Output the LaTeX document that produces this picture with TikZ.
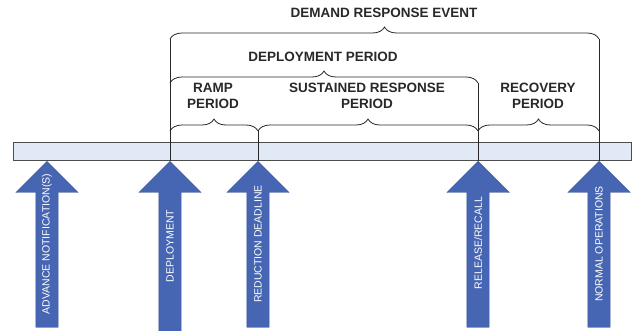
\documentclass[tikz,border=0pt]{standalone}
\usepackage{fontspec}
\setmainfont{Liberation Sans}
\usetikzlibrary{shapes.arrows,decorations.pathreplacing}
\definecolor{barfill}{RGB}{224,233,245}
\definecolor{arrowblue}{RGB}{70,101,178}
\definecolor{ink}{RGB}{40,40,40}

\begin{document}
\begin{tikzpicture}[x=1pt,y=-1pt,
  period/.style={font=\fontsize{13.5}{15.5}\selectfont\bfseries,text=ink,align=center,inner sep=0pt},
  bracket/.style={draw=ink,line width=0.8pt,decorate,decoration={brace,amplitude=12pt}},
  marker/.style={single arrow,draw=arrowblue!85!black,fill=arrowblue,rotate=90,anchor=tip,
    single arrow head extend=20pt,minimum height=166pt,text height=7.5pt,text depth=0pt,
    inner ysep=7.25pt,inner xsep=0pt},
  tag/.style={rotate=90,text=white,font=\fontsize{10.5}{12}\selectfont,inner sep=0pt}]
  \useasboundingbox (0,0) rectangle (634,330);

  % time line
  \node[draw=gray!60!black,fill=barfill,minimum width=618pt,minimum height=18pt,inner sep=0pt] (timeline) at (322,151) {};

  % milestones
  \node[marker] (notice) at (47,161) {};
  \node[marker,minimum height=170pt] (deploy) at (170,161) {};
  \node[marker] (deadline) at (258,161) {};
  \node[marker] (release) at (478,161) {};
  \node[marker] (normal) at (599,161) {};

  \node[tag] (notice-txt) at ([yshift=-83pt]notice.tip) {ADVANCE NOTIFICATION(S)};
  \node[tag] (deploy-txt) at ([yshift=-85pt]deploy.tip) {DEPLOYMENT};
  \node[tag] (deadline-txt) at ([yshift=-83pt]deadline.tip) {REDUCTION DEADLINE};
  \node[tag] (release-txt) at ([yshift=-82pt]release.tip) {RELEASE/RECALL};
  \node[tag] (normal-txt) at ([yshift=-83pt]normal.tip) {NORMAL OPERATIONS};

  % bracket ends
  \coordinate (eventL) at (170,39);   \coordinate (eventR) at (599,39);
  \coordinate (deployL) at (170,83);  \coordinate (deployR) at (478,83);
  \coordinate (rampL) at (170,131);   \coordinate (rampR) at (258,131);
  \coordinate (sustL) at (258,131);   \coordinate (sustR) at (478,131);
  \coordinate (recovL) at (478,131);  \coordinate (recovR) at (599,131);

  \draw[ink,line width=0.8pt] (deploy.tip) -- (eventL);
  \draw[ink,line width=0.8pt] (deadline.tip) -- (rampR);
  \draw[ink,line width=0.8pt] (release.tip) -- (deployR);
  \draw[ink,line width=0.8pt] (normal.tip) -- (eventR);

  \draw[bracket] (eventL) -- (eventR);
  \draw[bracket] (deployL) -- (deployR);
  \draw[bracket] (rampL) -- (rampR);
  \draw[bracket] (sustL) -- (sustR);
  \draw[bracket] (recovL) -- (recovR);

  \node[period] (event) at (384,13) {DEMAND RESPONSE EVENT};
  \node[period] (deployment) at (323,57) {DEPLOYMENT PERIOD};
  \node[period] (ramp) at (213,96) {RAMP\\PERIOD};
  \node[period] (sustained) at (367,96) {SUSTAINED RESPONSE\\PERIOD};
  \node[period] (recovery) at (538,96) {RECOVERY\\PERIOD};
\end{tikzpicture}
\end{document}
